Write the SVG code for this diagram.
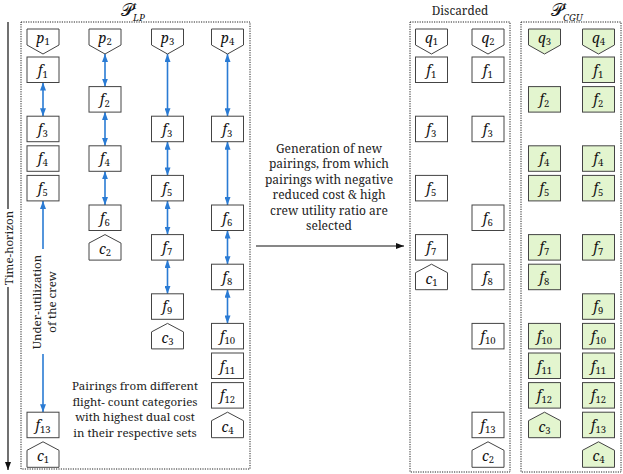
<svg xmlns="http://www.w3.org/2000/svg" width="623" height="474" viewBox="0 0 623 474">
<style>
.bx{fill:#fff;stroke:#444;stroke-width:1}
.gr{fill:#e3f5cf;stroke:#444;stroke-width:1}
.pn{fill:none;stroke:#222;stroke-width:1;stroke-dasharray:1.2 1.2}
.lb{font-family:'Noto Serif','DejaVu Serif',serif;font-size:14px;text-anchor:middle;fill:#111}
.fi{font-style:italic}
.sb{font-size:9.5px}
.tx{font-family:'Noto Serif','DejaVu Serif',serif;font-size:11.5px;text-anchor:middle;fill:#222}
.ti{font-family:'Noto Serif','DejaVu Serif',serif;font-size:9.5px;font-style:italic;fill:#111}
.bl{stroke:#2a7bd4;stroke-width:1.6;fill:none;marker-start:url(#ab);marker-end:url(#ab)}
.bl1{stroke:#2a7bd4;stroke-width:1.6;fill:none;marker-end:url(#ab)}
</style>
<defs>
<marker id="ab" viewBox="0 0 8 6" refX="8" refY="3" markerWidth="8" markerHeight="6" orient="auto-start-reverse" markerUnits="userSpaceOnUse"><path d="M0,0 L8,3 L0,6 z" fill="#2a7bd4"/></marker>
<marker id="ak" viewBox="0 0 8 6" refX="8" refY="3" markerWidth="8" markerHeight="6" orient="auto" markerUnits="userSpaceOnUse"><path d="M0,0 L8,3 L0,6 z" fill="#111"/></marker>
</defs>
<rect width="623" height="474" fill="#fff"/>

<g id="time-axis">
<line x1="8" y1="22" x2="8" y2="209" stroke="#111" stroke-width="1.2"/>
<line x1="8" y1="287" x2="8" y2="470" stroke="#111" stroke-width="1.2" marker-end="url(#ak)"/>
<text class="tx" transform="translate(0,248) rotate(-90)" x="0" y="12.5">Time-horizon</text>
</g>

<g id="panels">
<rect class="pn" x="21" y="22" width="229" height="447"/>
<rect class="pn" x="410" y="22" width="100" height="450"/>
<rect class="pn" x="521" y="22" width="100" height="450"/>
<text font-family="'DejaVu Serif',serif" font-size="17" x="121" y="16" fill="#111">𝒫</text>
<text class="ti" x="133" y="9">t</text>
<text class="ti" x="133" y="21">LP</text>
<text class="tx" x="460" y="15" style="font-size:11.8px">Discarded</text>
<text font-family="'DejaVu Serif',serif" font-size="17" x="551" y="16" fill="#111">𝒫</text>
<text class="ti" x="563" y="9">t</text>
<text class="ti" x="563" y="21">CGU</text>
</g>

<g id="connectors">
<line class="bl" x1="43" y1="82.5" x2="43" y2="116.2"/>
<line class="bl1" x1="43" y1="249" x2="43" y2="200.9"/>
<line class="bl1" x1="43" y1="354" x2="43" y2="412.2"/>
<line class="bl" x1="105" y1="54" x2="105" y2="86.6"/>
<line class="bl" x1="105" y1="112.1" x2="105" y2="145.8"/>
<line class="bl" x1="105" y1="171.3" x2="105" y2="205"/>
<line class="bl" x1="167.5" y1="54" x2="167.5" y2="116.2"/>
<line class="bl" x1="167.5" y1="141.7" x2="167.5" y2="175.4"/>
<line class="bl" x1="167.5" y1="200.9" x2="167.5" y2="234.6"/>
<line class="bl" x1="167.5" y1="260.1" x2="167.5" y2="293.8"/>
<line class="bl" x1="227.5" y1="54" x2="227.5" y2="116.2"/>
<line class="bl" x1="227.5" y1="141.7" x2="227.5" y2="205"/>
<line class="bl" x1="227.5" y1="230.5" x2="227.5" y2="264.2"/>
<line class="bl" x1="227.5" y1="289.7" x2="227.5" y2="323.4"/>
<line x1="256" y1="246" x2="404" y2="246" stroke="#111" stroke-width="1.2" marker-end="url(#ak)"/>
</g>

<g id="notes">
<text class="tx" transform="translate(0,302) rotate(-90)"><tspan x="0" y="40.5">Under-utilization</tspan><tspan x="0" y="56">of the crew</tspan></text>
<text class="tx"><tspan x="135" y="390">Pairings from different</tspan><tspan x="135" y="405.5">flight- count categories</tspan><tspan x="135" y="421">with highest dual cost</tspan><tspan x="135" y="436.5">in their respective sets</tspan></text>
<text class="tx" style="font-size:12px"><tspan x="329" y="152.5">Generation of new</tspan><tspan x="329" y="168">pairings, from which</tspan><tspan x="329" y="183.5">pairings with negative</tspan><tspan x="329" y="199">reduced cost &amp; high</tspan><tspan x="329" y="214.5">crew utility ratio are</tspan><tspan x="329" y="230">selected</tspan></text>
</g>

<g id="p1"><polygon class="bx" points="27,29 59,29 59,45 43,54 27,45"/><text class="lb" x="43" y="43"><tspan class="fi">p</tspan><tspan class="sb" dy="2">1</tspan></text></g>
<g id="lp1-f1"><rect class="bx" x="27" y="57" width="32" height="25.5"/><text class="lb" x="43" y="74.5"><tspan class="fi">f</tspan><tspan class="sb" dy="3">1</tspan></text></g>
<g id="lp1-f3"><rect class="bx" x="27" y="116.2" width="32" height="25.5"/><text class="lb" x="43" y="133.7"><tspan class="fi">f</tspan><tspan class="sb" dy="3">3</tspan></text></g>
<g id="lp1-f4"><rect class="bx" x="27" y="145.8" width="32" height="25.5"/><text class="lb" x="43" y="163.3"><tspan class="fi">f</tspan><tspan class="sb" dy="3">4</tspan></text></g>
<g id="lp1-f5"><rect class="bx" x="27" y="175.4" width="32" height="25.5"/><text class="lb" x="43" y="192.9"><tspan class="fi">f</tspan><tspan class="sb" dy="3">5</tspan></text></g>
<g id="lp1-f13"><rect class="bx" x="27" y="412.2" width="32" height="25.5"/><text class="lb" x="43" y="429.7"><tspan class="fi">f</tspan><tspan class="sb" dy="3">13</tspan></text></g>
<g id="lp1-c1"><polygon class="bx" points="43,441.8 59,450.3 59,467.3 27,467.3 27,450.3"/><text class="lb" x="43" y="461.3"><tspan class="fi">c</tspan><tspan class="sb" dy="2">1</tspan></text></g>

<g id="p2"><polygon class="bx" points="89,29 121,29 121,45 105,54 89,45"/><text class="lb" x="105" y="43"><tspan class="fi">p</tspan><tspan class="sb" dy="2">2</tspan></text></g>
<g id="lp2-f2"><rect class="bx" x="89" y="86.6" width="32" height="25.5"/><text class="lb" x="105" y="104.1"><tspan class="fi">f</tspan><tspan class="sb" dy="3">2</tspan></text></g>
<g id="lp2-f4"><rect class="bx" x="89" y="145.8" width="32" height="25.5"/><text class="lb" x="105" y="163.3"><tspan class="fi">f</tspan><tspan class="sb" dy="3">4</tspan></text></g>
<g id="lp2-f6"><rect class="bx" x="89" y="205" width="32" height="25.5"/><text class="lb" x="105" y="222.5"><tspan class="fi">f</tspan><tspan class="sb" dy="3">6</tspan></text></g>
<g id="lp2-c2"><polygon class="bx" points="105,234.6 121,243.1 121,260.1 89,260.1 89,243.1"/><text class="lb" x="105" y="254.1"><tspan class="fi">c</tspan><tspan class="sb" dy="2">2</tspan></text></g>

<g id="p3"><polygon class="bx" points="151.5,29 183.5,29 183.5,45 167.5,54 151.5,45"/><text class="lb" x="167.5" y="43"><tspan class="fi">p</tspan><tspan class="sb" dy="2">3</tspan></text></g>
<g id="lp3-f3"><rect class="bx" x="151.5" y="116.2" width="32" height="25.5"/><text class="lb" x="167.5" y="133.7"><tspan class="fi">f</tspan><tspan class="sb" dy="3">3</tspan></text></g>
<g id="lp3-f5"><rect class="bx" x="151.5" y="175.4" width="32" height="25.5"/><text class="lb" x="167.5" y="192.9"><tspan class="fi">f</tspan><tspan class="sb" dy="3">5</tspan></text></g>
<g id="lp3-f7"><rect class="bx" x="151.5" y="234.6" width="32" height="25.5"/><text class="lb" x="167.5" y="252.1"><tspan class="fi">f</tspan><tspan class="sb" dy="3">7</tspan></text></g>
<g id="lp3-f9"><rect class="bx" x="151.5" y="293.8" width="32" height="25.5"/><text class="lb" x="167.5" y="311.3"><tspan class="fi">f</tspan><tspan class="sb" dy="3">9</tspan></text></g>
<g id="lp3-c3"><polygon class="bx" points="167.5,323.4 183.5,331.9 183.5,348.9 151.5,348.9 151.5,331.9"/><text class="lb" x="167.5" y="342.9"><tspan class="fi">c</tspan><tspan class="sb" dy="2">3</tspan></text></g>

<g id="p4"><polygon class="bx" points="211.5,29 243.5,29 243.5,45 227.5,54 211.5,45"/><text class="lb" x="227.5" y="43"><tspan class="fi">p</tspan><tspan class="sb" dy="2">4</tspan></text></g>
<g id="lp4-f3"><rect class="bx" x="211.5" y="116.2" width="32" height="25.5"/><text class="lb" x="227.5" y="133.7"><tspan class="fi">f</tspan><tspan class="sb" dy="3">3</tspan></text></g>
<g id="lp4-f6"><rect class="bx" x="211.5" y="205" width="32" height="25.5"/><text class="lb" x="227.5" y="222.5"><tspan class="fi">f</tspan><tspan class="sb" dy="3">6</tspan></text></g>
<g id="lp4-f8"><rect class="bx" x="211.5" y="264.2" width="32" height="25.5"/><text class="lb" x="227.5" y="281.7"><tspan class="fi">f</tspan><tspan class="sb" dy="3">8</tspan></text></g>
<g id="lp4-f10"><rect class="bx" x="211.5" y="323.4" width="32" height="25.5"/><text class="lb" x="227.5" y="340.9"><tspan class="fi">f</tspan><tspan class="sb" dy="3">10</tspan></text></g>
<g id="lp4-f11"><rect class="bx" x="211.5" y="353" width="32" height="25.5"/><text class="lb" x="227.5" y="370.5"><tspan class="fi">f</tspan><tspan class="sb" dy="3">11</tspan></text></g>
<g id="lp4-f12"><rect class="bx" x="211.5" y="382.6" width="32" height="25.5"/><text class="lb" x="227.5" y="400.1"><tspan class="fi">f</tspan><tspan class="sb" dy="3">12</tspan></text></g>
<g id="lp4-c4"><polygon class="bx" points="227.5,412.2 243.5,420.7 243.5,437.7 211.5,437.7 211.5,420.7"/><text class="lb" x="227.5" y="431.7"><tspan class="fi">c</tspan><tspan class="sb" dy="2">4</tspan></text></g>

<g id="q1"><polygon class="bx" points="415.5,29 447.5,29 447.5,45 431.5,54 415.5,45"/><text class="lb" x="431.5" y="43"><tspan class="fi">q</tspan><tspan class="sb" dy="2">1</tspan></text></g>
<g id="d1-f1"><rect class="bx" x="415.5" y="57" width="32" height="25.5"/><text class="lb" x="431.5" y="74.5"><tspan class="fi">f</tspan><tspan class="sb" dy="3">1</tspan></text></g>
<g id="d1-f3"><rect class="bx" x="415.5" y="116.2" width="32" height="25.5"/><text class="lb" x="431.5" y="133.7"><tspan class="fi">f</tspan><tspan class="sb" dy="3">3</tspan></text></g>
<g id="d1-f5"><rect class="bx" x="415.5" y="175.4" width="32" height="25.5"/><text class="lb" x="431.5" y="192.9"><tspan class="fi">f</tspan><tspan class="sb" dy="3">5</tspan></text></g>
<g id="d1-f7"><rect class="bx" x="415.5" y="234.6" width="32" height="25.5"/><text class="lb" x="431.5" y="252.1"><tspan class="fi">f</tspan><tspan class="sb" dy="3">7</tspan></text></g>
<g id="d1-c1"><polygon class="bx" points="431.5,264.2 447.5,272.7 447.5,289.7 415.5,289.7 415.5,272.7"/><text class="lb" x="431.5" y="283.7"><tspan class="fi">c</tspan><tspan class="sb" dy="2">1</tspan></text></g>

<g id="q2"><polygon class="bx" points="472,29 504,29 504,45 488,54 472,45"/><text class="lb" x="488" y="43"><tspan class="fi">q</tspan><tspan class="sb" dy="2">2</tspan></text></g>
<g id="d2-f1"><rect class="bx" x="472" y="57" width="32" height="25.5"/><text class="lb" x="488" y="74.5"><tspan class="fi">f</tspan><tspan class="sb" dy="3">1</tspan></text></g>
<g id="d2-f3"><rect class="bx" x="472" y="116.2" width="32" height="25.5"/><text class="lb" x="488" y="133.7"><tspan class="fi">f</tspan><tspan class="sb" dy="3">3</tspan></text></g>
<g id="d2-f6"><rect class="bx" x="472" y="205" width="32" height="25.5"/><text class="lb" x="488" y="222.5"><tspan class="fi">f</tspan><tspan class="sb" dy="3">6</tspan></text></g>
<g id="d2-f8"><rect class="bx" x="472" y="264.2" width="32" height="25.5"/><text class="lb" x="488" y="281.7"><tspan class="fi">f</tspan><tspan class="sb" dy="3">8</tspan></text></g>
<g id="d2-f10"><rect class="bx" x="472" y="323.4" width="32" height="25.5"/><text class="lb" x="488" y="340.9"><tspan class="fi">f</tspan><tspan class="sb" dy="3">10</tspan></text></g>
<g id="d2-f13"><rect class="bx" x="472" y="412.2" width="32" height="25.5"/><text class="lb" x="488" y="429.7"><tspan class="fi">f</tspan><tspan class="sb" dy="3">13</tspan></text></g>
<g id="d2-c2"><polygon class="bx" points="488,441.8 504,450.3 504,467.3 472,467.3 472,450.3"/><text class="lb" x="488" y="461.3"><tspan class="fi">c</tspan><tspan class="sb" dy="2">2</tspan></text></g>

<g id="q3"><polygon class="gr" points="528.5,29 560.5,29 560.5,45 544.5,54 528.5,45"/><text class="lb" x="544.5" y="43"><tspan class="fi">q</tspan><tspan class="sb" dy="2">3</tspan></text></g>
<g id="g3-f2"><rect class="gr" x="528.5" y="86.6" width="32" height="25.5"/><text class="lb" x="544.5" y="104.1"><tspan class="fi">f</tspan><tspan class="sb" dy="3">2</tspan></text></g>
<g id="g3-f4"><rect class="gr" x="528.5" y="145.8" width="32" height="25.5"/><text class="lb" x="544.5" y="163.3"><tspan class="fi">f</tspan><tspan class="sb" dy="3">4</tspan></text></g>
<g id="g3-f5"><rect class="gr" x="528.5" y="175.4" width="32" height="25.5"/><text class="lb" x="544.5" y="192.9"><tspan class="fi">f</tspan><tspan class="sb" dy="3">5</tspan></text></g>
<g id="g3-f7"><rect class="gr" x="528.5" y="234.6" width="32" height="25.5"/><text class="lb" x="544.5" y="252.1"><tspan class="fi">f</tspan><tspan class="sb" dy="3">7</tspan></text></g>
<g id="g3-f8"><rect class="gr" x="528.5" y="264.2" width="32" height="25.5"/><text class="lb" x="544.5" y="281.7"><tspan class="fi">f</tspan><tspan class="sb" dy="3">8</tspan></text></g>
<g id="g3-f10"><rect class="gr" x="528.5" y="323.4" width="32" height="25.5"/><text class="lb" x="544.5" y="340.9"><tspan class="fi">f</tspan><tspan class="sb" dy="3">10</tspan></text></g>
<g id="g3-f11"><rect class="gr" x="528.5" y="353" width="32" height="25.5"/><text class="lb" x="544.5" y="370.5"><tspan class="fi">f</tspan><tspan class="sb" dy="3">11</tspan></text></g>
<g id="g3-f12"><rect class="gr" x="528.5" y="382.6" width="32" height="25.5"/><text class="lb" x="544.5" y="400.1"><tspan class="fi">f</tspan><tspan class="sb" dy="3">12</tspan></text></g>
<g id="g3-c3"><polygon class="gr" points="544.5,412.2 560.5,420.7 560.5,437.7 528.5,437.7 528.5,420.7"/><text class="lb" x="544.5" y="431.7"><tspan class="fi">c</tspan><tspan class="sb" dy="2">3</tspan></text></g>

<g id="q4"><polygon class="gr" points="582.5,29 614.5,29 614.5,45 598.5,54 582.5,45"/><text class="lb" x="598.5" y="43"><tspan class="fi">q</tspan><tspan class="sb" dy="2">4</tspan></text></g>
<g id="g4-f1"><rect class="gr" x="582.5" y="57" width="32" height="25.5"/><text class="lb" x="598.5" y="74.5"><tspan class="fi">f</tspan><tspan class="sb" dy="3">1</tspan></text></g>
<g id="g4-f2"><rect class="gr" x="582.5" y="86.6" width="32" height="25.5"/><text class="lb" x="598.5" y="104.1"><tspan class="fi">f</tspan><tspan class="sb" dy="3">2</tspan></text></g>
<g id="g4-f4"><rect class="gr" x="582.5" y="145.8" width="32" height="25.5"/><text class="lb" x="598.5" y="163.3"><tspan class="fi">f</tspan><tspan class="sb" dy="3">4</tspan></text></g>
<g id="g4-f5"><rect class="gr" x="582.5" y="175.4" width="32" height="25.5"/><text class="lb" x="598.5" y="192.9"><tspan class="fi">f</tspan><tspan class="sb" dy="3">5</tspan></text></g>
<g id="g4-f7"><rect class="gr" x="582.5" y="234.6" width="32" height="25.5"/><text class="lb" x="598.5" y="252.1"><tspan class="fi">f</tspan><tspan class="sb" dy="3">7</tspan></text></g>
<g id="g4-f9"><rect class="gr" x="582.5" y="293.8" width="32" height="25.5"/><text class="lb" x="598.5" y="311.3"><tspan class="fi">f</tspan><tspan class="sb" dy="3">9</tspan></text></g>
<g id="g4-f10"><rect class="gr" x="582.5" y="323.4" width="32" height="25.5"/><text class="lb" x="598.5" y="340.9"><tspan class="fi">f</tspan><tspan class="sb" dy="3">10</tspan></text></g>
<g id="g4-f11"><rect class="gr" x="582.5" y="353" width="32" height="25.5"/><text class="lb" x="598.5" y="370.5"><tspan class="fi">f</tspan><tspan class="sb" dy="3">11</tspan></text></g>
<g id="g4-f12"><rect class="gr" x="582.5" y="382.6" width="32" height="25.5"/><text class="lb" x="598.5" y="400.1"><tspan class="fi">f</tspan><tspan class="sb" dy="3">12</tspan></text></g>
<g id="g4-f13"><rect class="gr" x="582.5" y="412.2" width="32" height="25.5"/><text class="lb" x="598.5" y="429.7"><tspan class="fi">f</tspan><tspan class="sb" dy="3">13</tspan></text></g>
<g id="g4-c4"><polygon class="gr" points="598.5,441.8 614.5,450.3 614.5,467.3 582.5,467.3 582.5,450.3"/><text class="lb" x="598.5" y="461.3"><tspan class="fi">c</tspan><tspan class="sb" dy="2">4</tspan></text></g>
</svg>
